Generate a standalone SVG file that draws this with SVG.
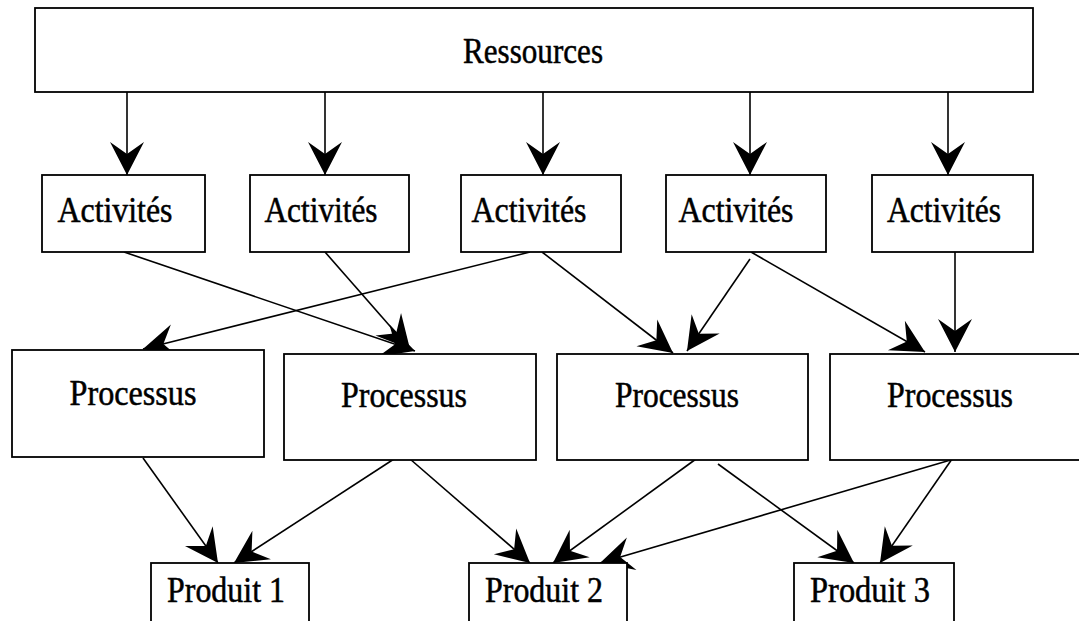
<svg xmlns="http://www.w3.org/2000/svg" width="1079" height="621" viewBox="0 0 1079 621">
<style>
.box{fill:#fff;stroke:#000;stroke-width:1.8}
.t{font-family:"Liberation Serif","Times New Roman",serif;font-size:35px;fill:#000;stroke:#000;stroke-width:0.5;text-anchor:middle}
.c{fill:none;stroke:#000;stroke-width:1.6;marker-end:url(#ah)}
</style>
<defs>
<marker id="ah" markerUnits="userSpaceOnUse" markerWidth="40" markerHeight="40" viewBox="-36 -20 40 40" refX="0" refY="0" orient="auto">
<path d="M0,0 L-33,-17 L-21,0 L-33,17 Z" fill="#000"/>
</marker>
</defs>
<rect width="1079" height="621" fill="#fff"/>
<g id="connectors">
<line class="c" x1="127" y1="92" x2="127" y2="175"/>
<line class="c" x1="325" y1="92" x2="325" y2="175"/>
<line class="c" x1="543" y1="92" x2="543" y2="175"/>
<line class="c" x1="750" y1="92" x2="750" y2="175"/>
<line class="c" x1="948" y1="92" x2="948" y2="175"/>
<line class="c" x1="124" y1="252" x2="415" y2="351"/>
<line class="c" x1="325" y1="252" x2="410" y2="349"/>
<line class="c" x1="530" y1="252" x2="143" y2="349"/>
<line class="c" x1="542" y1="252" x2="673" y2="353"/>
<line class="c" x1="750" y1="259" x2="687" y2="351"/>
<line class="c" x1="751" y1="252" x2="925" y2="352"/>
<line class="c" x1="955" y1="252" x2="955" y2="352"/>
<line class="c" x1="143" y1="458" x2="218" y2="563"/>
<line class="c" x1="394" y1="459" x2="234" y2="563"/>
<line class="c" x1="410" y1="459" x2="530" y2="563"/>
<line class="c" x1="696" y1="459" x2="553" y2="563"/>
<line class="c" x1="718" y1="464" x2="854" y2="563"/>
<line class="c" x1="954" y1="459" x2="600" y2="563"/>
<line class="c" x1="952" y1="459" x2="880" y2="563"/>
</g>
<g id="ressources"><rect class="box" x="35" y="8" width="998" height="84"/><text class="t" x="533" y="63" textLength="140" lengthAdjust="spacingAndGlyphs">Ressources</text></g>
<g id="act1"><rect class="box" x="42" y="175" width="163" height="77"/><text class="t" x="115" y="222" textLength="115" lengthAdjust="spacingAndGlyphs">Activités</text></g>
<g id="act2"><rect class="box" x="250" y="175" width="159" height="77"/><text class="t" x="321" y="222" textLength="113" lengthAdjust="spacingAndGlyphs">Activités</text></g>
<g id="act3"><rect class="box" x="461" y="175" width="160" height="77"/><text class="t" x="529" y="222" textLength="115" lengthAdjust="spacingAndGlyphs">Activités</text></g>
<g id="act4"><rect class="box" x="666" y="175" width="160" height="77"/><text class="t" x="736" y="222" textLength="115" lengthAdjust="spacingAndGlyphs">Activités</text></g>
<g id="act5"><rect class="box" x="872" y="175" width="161" height="77"/><text class="t" x="944" y="222" textLength="114" lengthAdjust="spacingAndGlyphs">Activités</text></g>
<g id="proc1"><rect class="box" x="12" y="350" width="252" height="107"/><text class="t" x="133" y="405" textLength="127" lengthAdjust="spacingAndGlyphs">Processus</text></g>
<g id="proc2"><rect class="box" x="284" y="354" width="252" height="106"/><text class="t" x="404" y="407" textLength="126" lengthAdjust="spacingAndGlyphs">Processus</text></g>
<g id="proc3"><rect class="box" x="557" y="354" width="251" height="106"/><text class="t" x="677" y="407" textLength="124" lengthAdjust="spacingAndGlyphs">Processus</text></g>
<g id="proc4"><rect class="box" x="830" y="354" width="252" height="106"/><text class="t" x="950" y="407" textLength="126" lengthAdjust="spacingAndGlyphs">Processus</text></g>
<g id="prod1"><rect class="box" x="151" y="563" width="158" height="70"/><text class="t" x="226" y="602" textLength="118" lengthAdjust="spacingAndGlyphs">Produit 1</text></g>
<g id="prod2"><rect class="box" x="469" y="563" width="158" height="70"/><text class="t" x="544" y="602" textLength="118" lengthAdjust="spacingAndGlyphs">Produit 2</text></g>
<g id="prod3"><rect class="box" x="794" y="563" width="160" height="70"/><text class="t" x="870" y="602" textLength="120" lengthAdjust="spacingAndGlyphs">Produit 3</text></g>
</svg>
